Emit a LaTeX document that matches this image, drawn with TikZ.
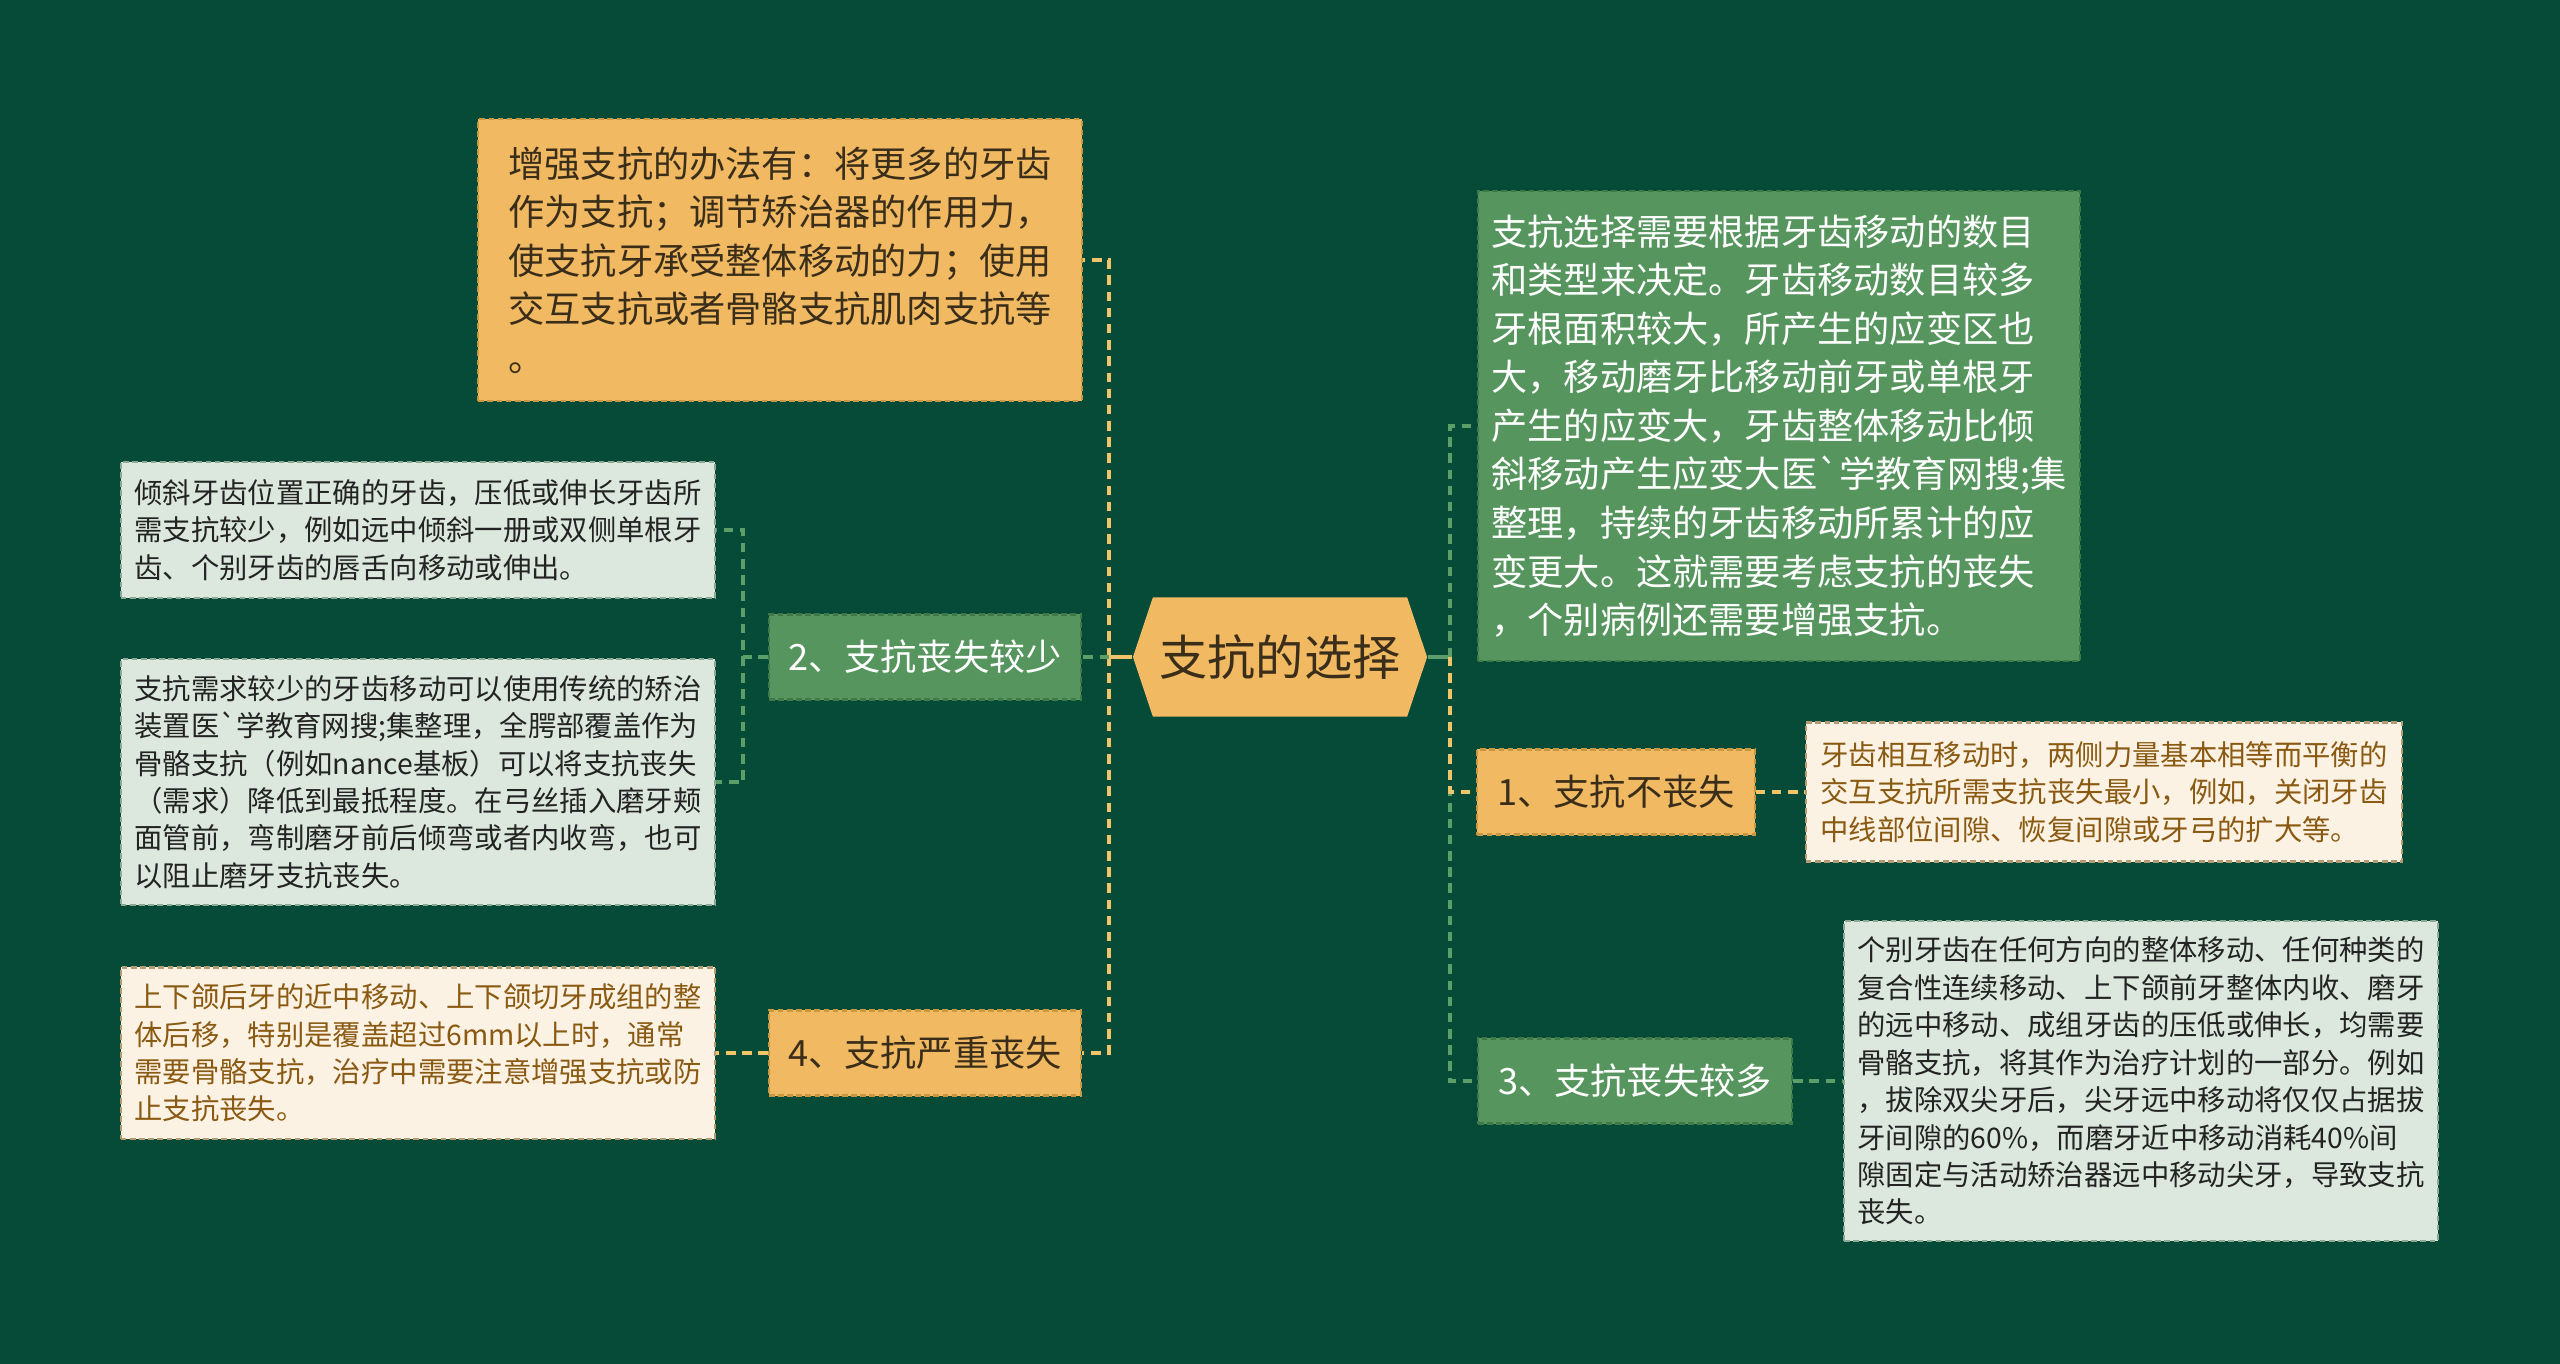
\documentclass[tikz,border=0pt]{standalone}
\usepackage{fontspec}
\setmainfont{Noto Sans CJK SC}
\usetikzlibrary{shapes.symbols}

\definecolor{bgteal}{HTML}{064A38}
\definecolor{gold}{HTML}{F0B962}
\definecolor{goldedge}{HTML}{C9973F}
\definecolor{leaf}{HTML}{56955E}
\definecolor{leafedge}{HTML}{3E7A48}
\definecolor{pale}{HTML}{DCE8DE}
\definecolor{paleedge}{HTML}{8EA894}
\definecolor{cream}{HTML}{FCF2E3}
\definecolor{creamedge}{HTML}{B49C72}
\definecolor{inkdark}{HTML}{3A2E1A}
\definecolor{ink}{HTML}{232323}
\definecolor{rust}{HTML}{8A5A12}
\definecolor{goldline}{HTML}{F2C46A}
\definecolor{leafline}{HTML}{5C9E68}

\newcommand\rootfont{\fontsize{13.7}{16}\selectfont}
\newcommand\boxfont{\fontsize{10.3}{13.8}\selectfont}
\newcommand\notefont{\fontsize{8.06}{10.65}\selectfont}

\tikzset{
  card/.style={draw, line width=0.6pt, dash pattern=on 1.6pt off 1pt, align=left, inner sep=0pt},
  goldbox/.style={card, fill=gold, draw=goldedge, text=inkdark, font=\boxfont},
  greenbox/.style={card, fill=leaf, draw=leafedge, text=white, font=\boxfont},
  palebox/.style={card, fill=pale, draw=paleedge, text=ink, font=\notefont},
  creambox/.style={card, fill=cream, draw=creamedge, text=rust, font=\notefont},
  branch/.style={minimum height=0.85cm},
  link/.style={line width=0.95pt, dash pattern=on 2.7pt off 1.9pt},
  stem/.style={line width=0.95pt}
}

\begin{document}
\begin{tikzpicture}[x=0.01cm, y=-0.01cm]
  \fill[bgteal] (0,0) rectangle (2560,1364);
  \useasboundingbox (0,0) rectangle (2560,1364);

  % centre
  \node[signal, signal to=west and east, signal pointer angle=143, fill=gold, text=inkdark,
        font=\rootfont, minimum width=2.94cm, minimum height=1.19cm, inner sep=0pt] (root) at (1280,657) {支抗的选择};

  % left side
  \node[goldbox, minimum width=6.03cm, minimum height=2.81cm] (boost) at (780,260) {增强支抗的办法有：将更多的牙齿\\
作为支抗；调节矫治器的作用力，\\
使支抗牙承受整体移动的力；使用\\
交互支抗或者骨骼支抗肌肉支抗等\\
。};
  \node[greenbox, branch, minimum width=3.12cm] (less) at (925,657) {2、支抗丧失较少};
  \node[palebox, minimum width=5.94cm, minimum height=1.36cm] (tilt) at (418,530) {倾斜牙齿位置正确的牙齿，压低或伸长牙齿所\\
需支抗较少，例如远中倾斜一册或双侧单根牙\\
齿、个别牙齿的唇舌向移动或伸出。};
  \node[palebox, minimum width=5.94cm, minimum height=2.45cm] (fewer) at (418,782) {支抗需求较少的牙齿移动可以使用传统的矫治\\
装置医\textasciigrave 学教育网搜;集整理，全腭部覆盖作为\\
骨骼支抗（例如nance基板）可以将支抗丧失\\
（需求）降低到最抵程度。在弓丝插入磨牙颊\\
面管前，弯制磨牙前后倾弯或者内收弯，也可\\
以阻止磨牙支抗丧失。};
  \node[goldbox, branch, minimum width=3.12cm] (severe) at (925,1053) {4、支抗严重丧失};
  \node[creambox, minimum width=5.94cm, minimum height=1.71cm] (molar) at (418,1053) {上下颌后牙的近中移动、上下颌切牙成组的整\\
体后移，特别是覆盖超过6mm以上时，通常\\
需要骨骼支抗，治疗中需要注意增强支抗或防\\
止支抗丧失。};

  % right side
  \node[greenbox, minimum width=6.02cm, minimum height=4.70cm] (choice) at (1779,426) {支抗选择需要根据牙齿移动的数目\\
和类型来决定。牙齿移动数目较多\\
牙根面积较大，所产生的应变区也\\
大，移动磨牙比移动前牙或单根牙\\
产生的应变大，牙齿整体移动比倾\\
斜移动产生应变大医\textasciigrave 学教育网搜;集\\
整理，持续的牙齿移动所累计的应\\
变更大。这就需要考虑支抗的丧失\\
，个别病例还需要增强支抗。};
  \node[goldbox, branch, minimum width=2.77cm] (keep) at (1616,792) {1、支抗不丧失};
  \node[creambox, minimum width=5.96cm, minimum height=1.39cm] (mutual) at (2104,792) {牙齿相互移动时，两侧力量基本相等而平衡的\\
交互支抗所需支抗丧失最小，例如，关闭牙齿\\
中线部位间隙、恢复间隙或牙弓的扩大等。};
  \node[greenbox, branch, minimum width=3.14cm] (more) at (1635,1081) {3、支抗丧失较多};
  \node[palebox, minimum width=5.93cm, minimum height=3.19cm] (single) at (2141,1081) {个别牙齿在任何方向的整体移动、任何种类的\\
复合性连续移动、上下颌前牙整体内收、磨牙\\
的远中移动、成组牙齿的压低或伸长，均需要\\
骨骼支抗，将其作为治疗计划的一部分。例如\\
，拔除双尖牙后，尖牙远中移动将仅仅占据拔\\
牙间隙的60\%，而磨牙近中移动消耗40\%间\\
隙固定与活动矫治器远中移动尖牙，导致支抗\\
丧失。};

  % connectors
  \coordinate (lj) at (1109,657);
  \coordinate (rj) at (1450,657);
  \coordinate (lessj) at (743,657);
  \draw[stem, goldline] (root.west) -- (lj);
  \draw[stem, leafline] (root.east) -- (rj);
  \draw[link, goldline] (lj) |- (boost.east);
  \draw[link, goldline] (lj) |- (severe.east);
  \draw[link, leafline] (lj) -- (less.east);
  \draw[link, leafline] (less.west) -- (lessj) |- (tilt.east);
  \draw[link, leafline] (lessj) |- (fewer.east);
  \draw[link, goldline] (severe.west) -- (molar.east);
  \draw[link, leafline] (rj) |- (choice.west);
  \draw[link, leafline] (rj) |- (more.west);
  \draw[link, goldline] (rj) |- (keep.west);
  \draw[link, goldline] (keep.east) -- (mutual.west);
  \draw[link, leafline] (more.east) -- (single.west);
\end{tikzpicture}
\end{document}
